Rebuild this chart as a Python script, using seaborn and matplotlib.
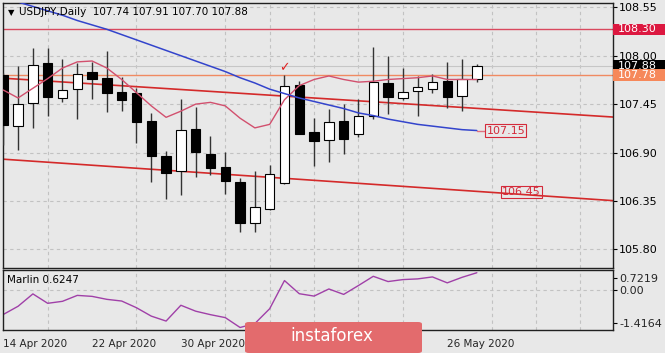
import matplotlib
matplotlib.use("Agg")
import numpy as np
import pandas as pd
import matplotlib.pyplot as plt
import matplotlib.transforms as mtransforms
from matplotlib.patches import Rectangle, FancyBboxPatch
import seaborn as sns

# daily bars, 14 Apr - 28 May 2020
dates = ["2020-04-14", "2020-04-15", "2020-04-16", "2020-04-17", "2020-04-20", "2020-04-21",
         "2020-04-22", "2020-04-23", "2020-04-24", "2020-04-27", "2020-04-28", "2020-04-29",
         "2020-04-30", "2020-05-01", "2020-05-04", "2020-05-05", "2020-05-06", "2020-05-07",
         "2020-05-08", "2020-05-11", "2020-05-12", "2020-05-13", "2020-05-14", "2020-05-15",
         "2020-05-18", "2020-05-19", "2020-05-20", "2020-05-21", "2020-05-22", "2020-05-25",
         "2020-05-26", "2020-05-27", "2020-05-28"]
opens = [107.78, 107.20, 107.46, 107.92, 107.52, 107.62, 107.81, 107.75, 107.59, 107.58, 107.26,
         106.86, 106.69, 107.17, 106.88, 106.74, 106.57, 106.10, 106.26, 106.55, 107.67, 107.13,
         107.04, 107.26, 107.11, 107.32, 107.69, 107.52, 107.60, 107.62, 107.71, 107.54, 107.74]
highs = [107.80, 107.88, 108.09, 108.09, 107.96, 107.92, 107.93, 108.05, 107.76, 107.63, 107.35,
         106.92, 107.51, 107.42, 107.09, 106.91, 106.61, 106.69, 106.76, 107.78, 107.71, 107.29,
         107.39, 107.45, 107.51, 108.10, 108.00, 107.86, 107.77, 107.79, 107.93, 107.96, 107.91]
lows = [106.99, 106.93, 107.18, 107.31, 107.47, 107.28, 107.51, 107.36, 107.37, 107.01, 106.57,
        106.37, 106.42, 106.62, 106.65, 106.43, 106.00, 106.00, 106.25, 106.54, 107.11, 106.75,
        106.79, 106.88, 107.08, 107.28, 107.34, 107.50, 107.32, 107.58, 107.41, 107.37, 107.70]
closes = [107.21, 107.45, 107.90, 107.53, 107.61, 107.79, 107.74, 107.58, 107.50, 107.25, 106.86,
          106.67, 107.16, 106.91, 106.72, 106.58, 106.10, 106.28, 106.66, 107.66, 107.11, 107.03,
          107.25, 107.05, 107.31, 107.70, 107.53, 107.59, 107.64, 107.70, 107.53, 107.74, 107.88]
ma_blue = [108.66, 108.61, 108.56, 108.51, 108.46, 108.40, 108.35, 108.30, 108.24, 108.18, 108.12,
           108.06, 108.00, 107.94, 107.88, 107.82, 107.75, 107.69, 107.62, 107.57, 107.52, 107.48,
           107.44, 107.40, 107.35, 107.32, 107.28, 107.25, 107.22, 107.20, 107.18, 107.16, 107.15]
ma_pink = [107.61, 107.52, 107.63, 107.74, 107.86, 107.93, 107.94, 107.86, 107.73, 107.58, 107.43,
           107.30, 107.37, 107.45, 107.47, 107.43, 107.29, 107.18, 107.22, 107.50, 107.66, 107.73,
           107.77, 107.73, 107.70, 107.71, 107.73, 107.74, 107.75, 107.77, 107.73, 107.73, 107.73]
marlin = [-0.863, -0.570, -0.130, -0.465, -0.394, -0.183, -0.218, -0.324, -0.384, -0.623, -0.922,
          -1.098, -0.535, -0.746, -0.870, -0.975, -1.327, -1.186, -0.658, 0.345, -0.123, -0.208,
          0.046, -0.148, 0.169, 0.497, 0.310, 0.380, 0.405, 0.475, 0.264, 0.461, 0.6247]

# channel trend lines (bar index ends)
channel_x = [-0.5, 41.5]
channel_upper = [107.75, 107.30]
channel_lower = [106.83, 106.35]

level_top = 108.30
level_mid = 107.78
last_close = 107.88
price_ticks = [105.80, 106.35, 106.90, 107.45, 108.00, 108.55]
# date labels that are visible (the others sit under the watermark)
date_label_bars = [0, 6, 12, 30]

df = pd.DataFrame({"date": pd.to_datetime(dates), "open": opens, "high": highs,
                   "low": lows, "close": closes, "blue": ma_blue, "pink": ma_pink,
                   "marlin": marlin})
df["i"] = np.arange(len(df))

sns.set_theme(style="white", rc={"axes.facecolor": "#E8E8E8", "figure.facecolor": "#E8E8E8"})
plt.rcParams["font.family"] = ["DejaVu Sans"]

W, H = 665, 353
fig = plt.figure(figsize=(W / 100, H / 100), dpi=100)
ax = fig.add_axes([3 / W, 1 - 268 / H, 610 / W, 265 / H])
ax2 = fig.add_axes([3 / W, 1 - 330 / H, 610 / W, 60 / H])

grid_kw = dict(color="#C2C2C2", linestyle=(0, (3, 3)), linewidth=0.8)

# candles
up = df["close"] >= df["open"]
ax.vlines(df["i"], df["low"], df["high"], color="#333333", linewidth=1, zorder=3)
ax.bar(df["i"], (df["close"] - df["open"]).abs().clip(lower=0.01),
       bottom=df[["open", "close"]].min(axis=1), width=0.63,
       color=np.where(up, "white", "black"), edgecolor="black", linewidth=0.8, zorder=4)

# levels and lines
ax.axhline(level_top, color="#D9485E", linewidth=1, zorder=2)
ax.axhline(last_close, color="#C6C6C6", linewidth=0.8, zorder=1.5)
ax.axhline(level_mid, color="#F08A62", linewidth=1, zorder=2)
sns.lineplot(x=channel_x, y=channel_upper, ax=ax, color="#D42A2A", linewidth=1.2, zorder=2)
sns.lineplot(x=channel_x, y=channel_lower, ax=ax, color="#D42A2A", linewidth=1.2, zorder=2)
sns.lineplot(data=df, x="i", y="pink", ax=ax, color="#D2506E", linewidth=1, zorder=5)
sns.lineplot(data=df, x="i", y="blue", ax=ax, color="#3344CC", linewidth=1.1, zorder=5)
ax.plot([df["i"].iloc[-1], 32.7], [ma_blue[-1], ma_blue[-1]], color="#E07080", linewidth=1, zorder=5)

lab_kw = dict(fontsize=8, color="#D42A3A", ha="center", va="center", zorder=6,
              bbox=dict(boxstyle="square,pad=0.12", fc="#E8E8E8", ec="#D42A3A", lw=0.8))
ax.text(33.95, ma_blue[-1], f"{ma_blue[-1]:.2f}", **lab_kw)
ax.text(35.0, 106.45, "106.45", **{**lab_kw, "bbox": dict(boxstyle="square,pad=0.12", fc="none",
                                                        ec="#D42A3A", lw=0.8)})
ax.text(19, 107.87, "\u2713", color="#E02020", fontsize=9, fontweight="bold",
        ha="center", va="center", zorder=6)

ax.set_xlim(-0.02, 41.2)
ax.set_ylim(105.588, 108.599)
ax.set_xticks(np.arange(0, 42, 3), minor=True)
ax.set_xticks(date_label_bars)
ax.set_xticklabels([])
ax.tick_params(axis="x", which="both", length=0)
ax.yaxis.tick_right()
ax.set_yticks(price_ticks)
ax.set_yticklabels([f"{v:.2f}" for v in price_ticks])
ax.tick_params(axis="y", length=3, width=0.8, pad=1.5, labelsize=8, color="black", labelcolor="black")
ax.grid(which="minor", axis="x", **grid_kw)
ax.grid(which="major", axis="y", **grid_kw)
ax.set_axisbelow(True)
ax.set_xlabel("")
ax.set_ylabel("")

# right-side price boxes
tr = mtransforms.blended_transform_factory(ax.transAxes, ax.transData)
for val, fc in [(level_top, "#DC1840"), (last_close, "#000000"), (level_mid, "#F6885A")]:
    ax.add_patch(Rectangle((1.0, val - 0.066), 0.09, 0.132, transform=tr, facecolor=fc,
                           edgecolor="none", clip_on=False, zorder=7))
    ax.text(1.0075, val, f"{val:.2f}", transform=tr, color="white", fontsize=8,
            ha="left", va="center", clip_on=False, zorder=8)

# Marlin panel
sns.lineplot(data=df, x="i", y="marlin", ax=ax2, color="#A040A8", linewidth=1)
ax2.set_xlim(-0.02, 41.2)
ax2.set_ylim(-1.4164, 0.7219)
ax2.yaxis.tick_right()
ax2.set_yticks([0.451, 0.0, -1.179])
ax2.set_yticklabels(["0.7219", "0.00", "-1.4164"])
ax2.tick_params(axis="y", length=3, width=0.8, pad=1.5, labelsize=8, color="black")
ax2.set_xticks(np.arange(0, 42, 3), minor=True)
ax2.set_xticks(date_label_bars)
ax2.set_xticklabels([df["date"].iloc[b].strftime("%-d %b %Y") for b in date_label_bars])
for lab in ax2.get_xticklabels():
    lab.set_ha("left")
ax2.tick_params(axis="x", which="major", length=4, width=0.8, pad=2.5, labelsize=7.5, color="black")
ax2.tick_params(axis="x", which="minor", length=0)
ax2.grid(which="minor", axis="x", **grid_kw)
ax2.axhline(0, zorder=0, **grid_kw)
ax2.set_axisbelow(True)
ax2.set_xlabel("")
ax2.set_ylabel("")

for a in (ax, ax2):
    for s in a.spines.values():
        s.set_color("#202020")
        s.set_linewidth(1)

# header texts
fig.text(8 / W, 1 - 12.5 / H, "\u25BC", fontsize=6, color="black", va="center")
fig.text(19 / W, 1 - 12 / H, "USDJPY,Daily  107.74 107.91 107.70 107.88", fontsize=7.5,
         color="black", va="center")
fig.text(7 / W, 1 - 280 / H, f"Marlin {marlin[-1]:.4f}", fontsize=7.5, color="black", va="center")

# watermark
fig.patches.append(FancyBboxPatch((245 / W, 0.0), 177 / W, 31 / H,
                                  boxstyle="round,pad=0,rounding_size=0.006",
                                  transform=fig.transFigure, facecolor="#E36B6D",
                                  edgecolor="none", zorder=10))
fig.text(332 / W, 1 - 336 / H, "instaforex", fontsize=12, color="white",
         ha="center", va="center", zorder=11)

fig.savefig("out.png", dpi=100, facecolor=fig.get_facecolor())
